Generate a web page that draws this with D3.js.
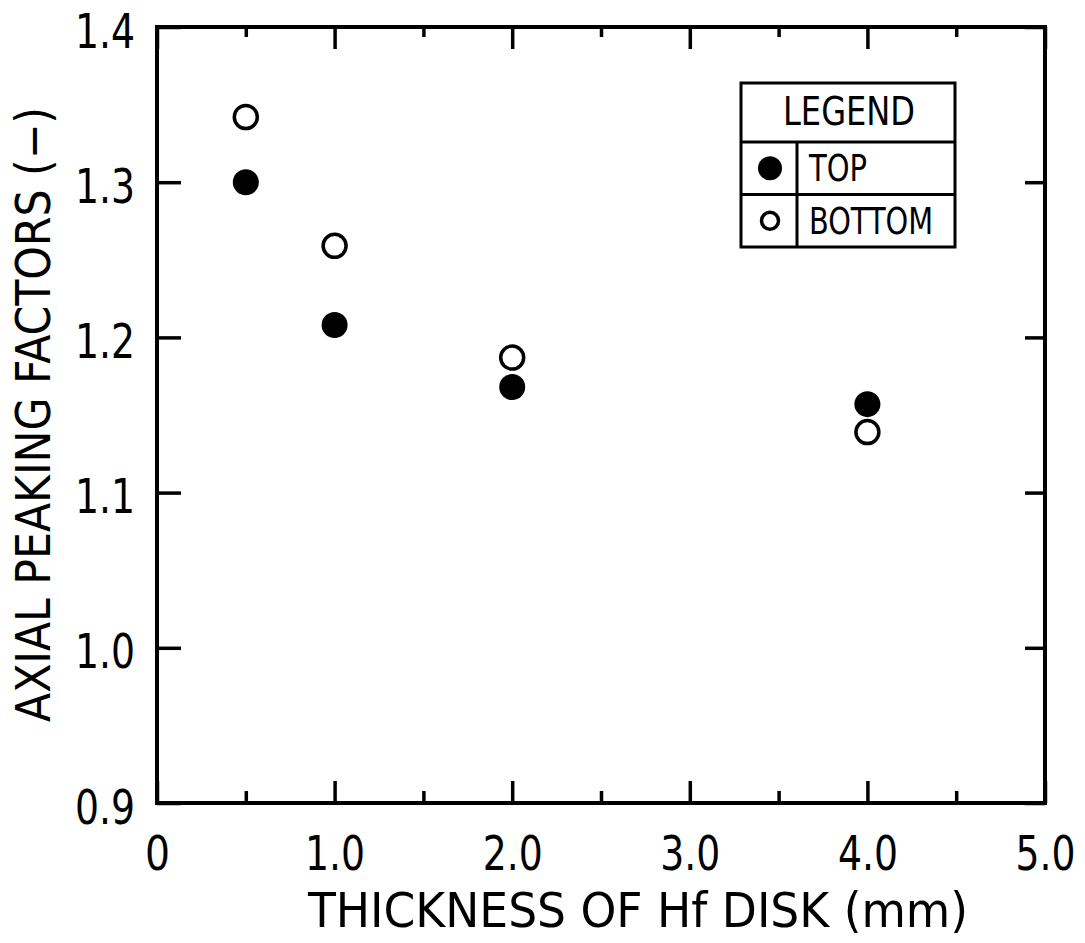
<!DOCTYPE html>
<html>
<head>
<meta charset="utf-8">
<script src="https://cdn.jsdelivr.net/npm/d3@7"></script>
<style>
  body { margin: 0; background: #fff; }
  text { font-family: "Liberation Sans Narrow", "DejaVu Sans Condensed", "Liberation Sans", sans-serif; fill: #000; }
</style>
</head>
<body>
<svg id="chart"></svg>
<script>
// thickness of Hf disk (mm)
var thickness = [0.5, 1.0, 2.0, 4.0];
// axial peaking factors
var topValues = [1.30, 1.208, 1.168, 1.157];
var bottomValues = [1.342, 1.259, 1.187, 1.139];
var xMajorTicks = [0, 1, 2, 3, 4, 5];
var xMinorTicks = [0.5, 1.5, 2.5, 3.5, 4.5];
var yTicks = [0.9, 1.0, 1.1, 1.2, 1.3, 1.4];
var legendLabels = ["TOP", "BOTTOM"];

var outerWidth = 1085;
var outerHeight = 943;
var margin = { top: 27, left: 157, right: 40, bottom: 140 };
var width = outerWidth - margin.left - margin.right;
var height = outerHeight - margin.top - margin.bottom;

var svg = d3.select("#chart").attr("width", outerWidth).attr("height", outerHeight);
var cg = svg.append("g").attr("transform", "translate(" + margin.left + "," + margin.top + ")");

var x = d3.scaleLinear().domain([0, 5]).range([0, width]);
var y = d3.scaleLinear().domain([0.9, 1.4]).range([height, 0]);

// squeeze labels a bit, the original lettering is narrow
function narrow(sel, perChar) {
  sel.each(function () {
    var t = d3.select(this);
    var n = t.text().length;
    if (n) t.attr("textLength", n === 1 ? 25 : n * perChar).attr("lengthAdjust", "spacingAndGlyphs");
  });
}

function styleAxis(g) {
  g.select(".domain").remove();
  g.selectAll("line").attr("stroke", "#000").attr("stroke-width", 3.5);
  g.selectAll("text").style("font-size", "48px").call(narrow, 20);
}

// bottom axis with labels
cg.append("g")
  .attr("transform", `translate(0,${height})`)
  .call(d3.axisBottom(x).tickValues(xMajorTicks).tickSizeInner(-22).tickSizeOuter(0).tickPadding(33)
    .tickFormat((d) => (d === 0 ? "0" : d.toFixed(1))))
  .call(styleAxis);
cg.append("g")
  .attr("transform", `translate(0,${height})`)
  .call(d3.axisBottom(x).tickValues(xMinorTicks).tickSizeInner(-12).tickSizeOuter(0).tickFormat(""))
  .call(styleAxis);
// top axis
cg.append("g")
  .call(d3.axisTop(x).tickValues(xMajorTicks).tickSizeInner(-22).tickSizeOuter(0).tickFormat(""))
  .call(styleAxis);
cg.append("g")
  .call(d3.axisTop(x).tickValues(xMinorTicks).tickSizeInner(-10).tickSizeOuter(0).tickFormat(""))
  .call(styleAxis);
// left axis with labels
var yg = cg.append("g")
  .call(d3.axisLeft(y).tickValues(yTicks).tickSizeInner(-24).tickSizeOuter(0).tickPadding(22)
    .tickFormat((d) => d.toFixed(1)))
  .call(styleAxis);
yg.selectAll("text").attr("dy", "0.42em");
// right axis
cg.append("g")
  .attr("transform", `translate(${width},0)`)
  .call(d3.axisRight(y).tickValues(yTicks).tickSizeInner(-20).tickSizeOuter(0).tickFormat(""))
  .call(styleAxis);

// frame
cg.append("rect")
  .attr("width", width)
  .attr("height", height)
  .attr("fill", "none")
  .attr("stroke", "#000")
  .attr("stroke-width", 4);

// axis titles
svg.append("text")
  .attr("x", 308)
  .attr("y", 927)
  .attr("textLength", 660)
  .attr("lengthAdjust", "spacingAndGlyphs")
  .style("font-size", "48px")
  .text("THICKNESS OF Hf DISK  (mm)");

svg.append("text")
  .attr("transform", "translate(50,722) rotate(-90)")
  .attr("textLength", 615)
  .attr("lengthAdjust", "spacingAndGlyphs")
  .style("font-size", "48px")
  .text("AXIAL PEAKING FACTORS  (\u2212)");

// data points
cg.selectAll(".bottom")
  .data(thickness)
  .enter()
  .append("circle")
  .attr("class", "bottom")
  .attr("cx", (d) => x(d))
  .attr("cy", (d, i) => y(bottomValues[i]))
  .attr("r", 11.5)
  .attr("fill", "#fff")
  .attr("stroke", "#000")
  .attr("stroke-width", 3.5);

cg.selectAll(".top")
  .data(thickness)
  .enter()
  .append("circle")
  .attr("class", "top")
  .attr("cx", (d) => x(d))
  .attr("cy", (d, i) => y(topValues[i]))
  .attr("r", 13)
  .attr("fill", "#000");

// legend
var legend = svg.append("g").attr("transform", "translate(741,83)");
var lw = 214, headH = 59, rowH = 52.5, divX = 56;
var legendWidths = [58, 124];
legend.append("rect")
  .attr("width", lw)
  .attr("height", headH + 2 * rowH)
  .attr("fill", "#fff")
  .attr("stroke", "#000")
  .attr("stroke-width", 3);
legend.append("text")
  .attr("x", 42)
  .attr("y", 42)
  .attr("textLength", 132)
  .attr("lengthAdjust", "spacingAndGlyphs")
  .style("font-size", "39px")
  .text("LEGEND");
legendLabels.forEach(function (label, i) {
  var y0 = headH + i * rowH;
  legend.append("line")
    .attr("x1", 0).attr("x2", lw)
    .attr("y1", y0).attr("y2", y0)
    .attr("stroke", "#000").attr("stroke-width", 3);
  legend.append("line")
    .attr("x1", divX).attr("x2", divX)
    .attr("y1", y0).attr("y2", y0 + rowH)
    .attr("stroke", "#000").attr("stroke-width", 3);
  legend.append("circle")
    .attr("cx", 29)
    .attr("cy", y0 + rowH / 2)
    .attr("r", i === 0 ? 12 : 8.5)
    .attr("fill", i === 0 ? "#000" : "#fff")
    .attr("stroke", "#000")
    .attr("stroke-width", i === 0 ? 0 : 3.5);
  legend.append("text")
    .attr("x", 68)
    .attr("y", y0 + rowH / 2 + 13)
    .attr("textLength", legendWidths[i])
    .attr("lengthAdjust", "spacingAndGlyphs")
    .style("font-size", "37px")
    .text(label);
});
</script>
</body>
</html>
